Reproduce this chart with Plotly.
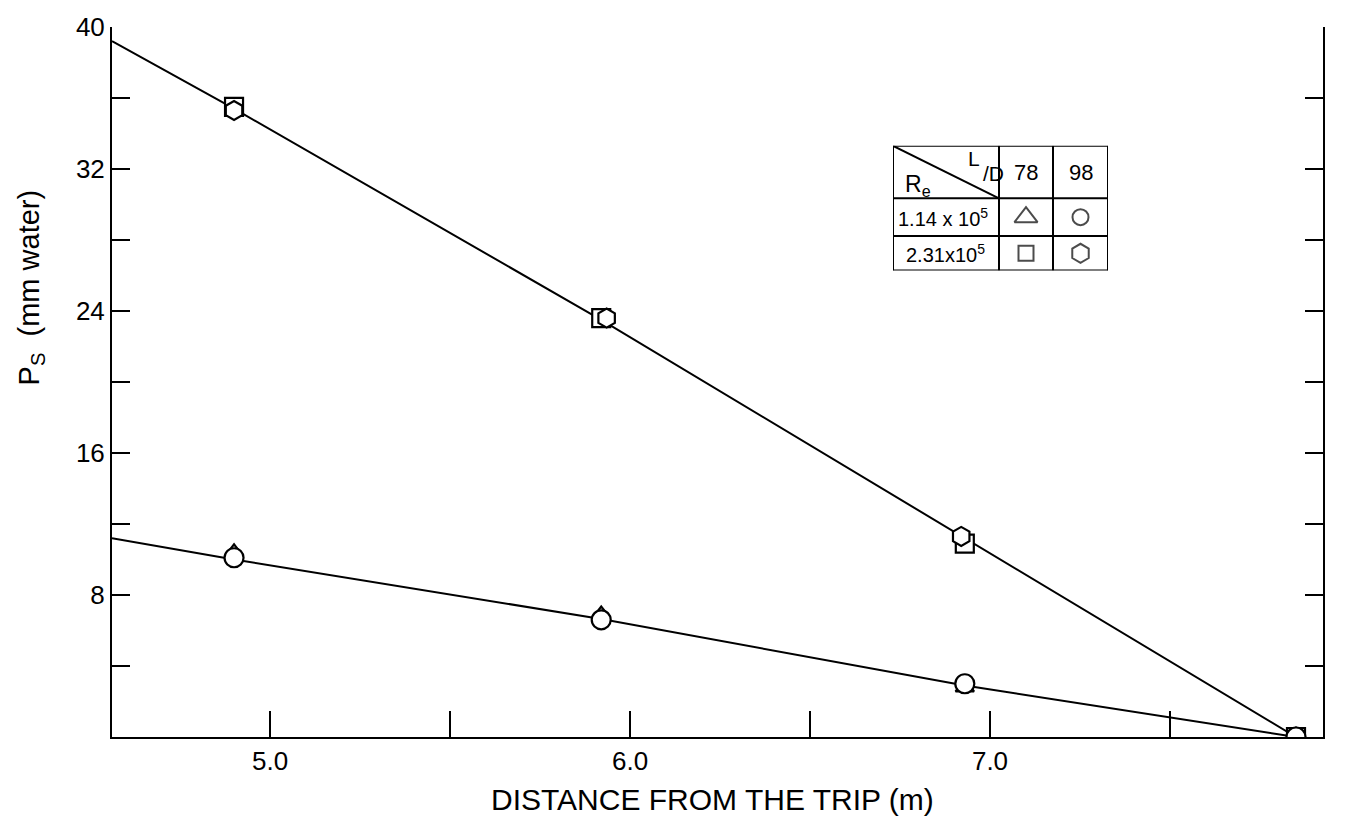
import plotly.graph_objects as go

# Measured wall static pressure along the pipe
distance = [4.90, 5.92, 6.93, 7.85]
ps_re114_ld78 = [10.4, 6.9, 2.8, 0.0]   # triangles
ps_re114_ld98 = [10.1, 6.6, 3.0, 0.0]   # circles
ps_re231_ld78 = [35.5, 23.6, 10.9, 0.0]  # squares
distance_hex = [4.90, 5.935, 6.92, 7.85]
ps_re231_ld98 = [35.3, 23.6, 11.3, 0.0]  # hexagons

# Faired curves through the data
fit_x = [4.561, 4.90, 5.92, 6.93, 7.85]
fit_high = [39.2, 35.4, 23.5, 11.2, 0.0]
fit_low = [11.2, 10.0, 6.65, 2.9, 0.0]

x_ticks = [5.0, 5.5, 6.0, 6.5, 7.0, 7.5]
x_tick_text = ["5.0", "", "6.0", "", "7.0", ""]
y_ticks = [0, 4, 8, 12, 16, 20, 24, 28, 32, 36, 40]
y_tick_text = ["", "", "8", "", "16", "", "24", "", "32", "", "40"]

# Key table contents
col_labels = ["78", "98"]
row_labels = ["1.14 x 10<sup>5</sup>", "2.31x10<sup>5</sup>"]

FONT = "Liberation Sans"
INK = "black"

# plot area in pixels
L, T, W, H = 112, 20, 1211, 717


def px_x(p):
    return (p - L) / W


def px_y(p):
    return (T + H - p) / H


fig = go.Figure()

for fy in (fit_high, fit_low):
    fig.add_trace(go.Scatter(x=fit_x, y=fy, mode="lines",
                             line=dict(color=INK, width=2), hoverinfo="skip"))


def pts(x, y, symbol, size):
    fig.add_trace(go.Scatter(
        x=x, y=y, mode="markers",
        marker=dict(symbol=symbol, size=size, color="white",
                    line=dict(color=INK, width=2.2))))


pts(distance, ps_re114_ld78, "triangle-up", 16)
pts(distance, ps_re231_ld78, "square", 18)
pts(distance_hex, ps_re231_ld98, "hexagon", 19)
pts(distance, ps_re114_ld98, "circle", 19)

# ---- key table on its own little axis pair (units: px-like grid) ----
col_edges = [0, 106, 160, 215]
row_edges = [0, 35, 73, 126]
for xe in col_edges:
    fig.add_shape(type="line", xref="x2", yref="y2", x0=xe, x1=xe,
                  y0=row_edges[0], y1=row_edges[-1], line=dict(color=INK, width=2))
for ye in row_edges:
    fig.add_shape(type="line", xref="x2", yref="y2", x0=col_edges[0], x1=col_edges[-1],
                  y0=ye, y1=ye, line=dict(color=INK, width=2))
fig.add_shape(type="line", xref="x2", yref="y2", x0=0, y0=126, x1=106, y1=73,
              line=dict(color=INK, width=2))

col_mid = [(col_edges[i] + col_edges[i + 1]) / 2 for i in (1, 2)]
row_mid = [(row_edges[2] + row_edges[1]) / 2, (row_edges[1] + row_edges[0]) / 2]
head_mid = (row_edges[2] + row_edges[3]) / 2


def txt(x, y, s, size=21, xanchor="center", xref="x2", yref="y2", **kw):
    fig.add_annotation(x=x, y=y, xref=xref, yref=yref, text=s, showarrow=False,
                       xanchor=xanchor, yanchor="middle",
                       font=dict(family=FONT, size=size, color=INK), **kw)


for cx, lab in zip(col_mid, col_labels):
    txt(cx, head_mid, lab, size=22)
txt(10, 86, "R<sub>e</sub>", size=23, xanchor="left")
txt(89, 113, "L", size=21, xanchor="right")
txt(88, 98, "/D", size=21, xanchor="left")
txt(3, row_mid[0], row_labels[0], size=20, xanchor="left")
txt(11, row_mid[1], row_labels[1], size=20, xanchor="left")

key_symbols = [["triangle-up", "circle"], ["square", "hexagon"]]
key_sizes = [[20, 16], [15, 19]]
for r in range(2):
    fig.add_trace(go.Scatter(
        x=col_mid, y=[row_mid[r]] * 2, mode="markers", xaxis="x2", yaxis="y2",
        marker=dict(symbol=key_symbols[r], size=key_sizes[r], color="white",
                    line=dict(color=INK, width=2))))

# ---- axis titles ----
txt(px_x(712), px_y(800), "DISTANCE FROM THE TRIP (m)", size=30,
    xref="paper", yref="paper")
txt(px_x(31), px_y(283), "P<sub>S</sub>  (mm water)", size=29,
    xref="paper", yref="paper", textangle=-90)

fig.update_layout(
    width=1345, height=827,
    margin=dict(l=L, r=1345 - L - W, t=T, b=827 - T - H),
    paper_bgcolor="white", plot_bgcolor="white",
    showlegend=False,
    xaxis=dict(range=[4.561, 7.925], tickvals=x_ticks, ticktext=x_tick_text,
               ticks="inside", ticklen=26, tickwidth=2, tickcolor=INK,
               showline=True, linecolor=INK, linewidth=2, mirror=False,
               showgrid=False, zeroline=False,
               tickfont=dict(family=FONT, size=26, color=INK)),
    yaxis=dict(range=[0, 40], tickvals=y_ticks, ticktext=y_tick_text,
               ticks="inside", ticklen=18, tickwidth=2, tickcolor=INK,
               showline=True, linecolor=INK, linewidth=2, mirror="ticks",
               showgrid=False, zeroline=False,
               tickfont=dict(family=FONT, size=26, color=INK)),
    xaxis2=dict(domain=[px_x(893), px_x(1108)], range=[0, 215], anchor="y2",
                visible=False, fixedrange=True),
    yaxis2=dict(domain=[px_y(266), px_y(140)], range=[0, 126], anchor="x2",
                visible=False, fixedrange=True),
)

# white cell background for the key
fig.add_shape(type="rect", xref="x2", yref="y2", x0=0, x1=215, y0=0, y1=126,
              fillcolor="white", line=dict(width=0), layer="below")

fig.write_html("out.html")
